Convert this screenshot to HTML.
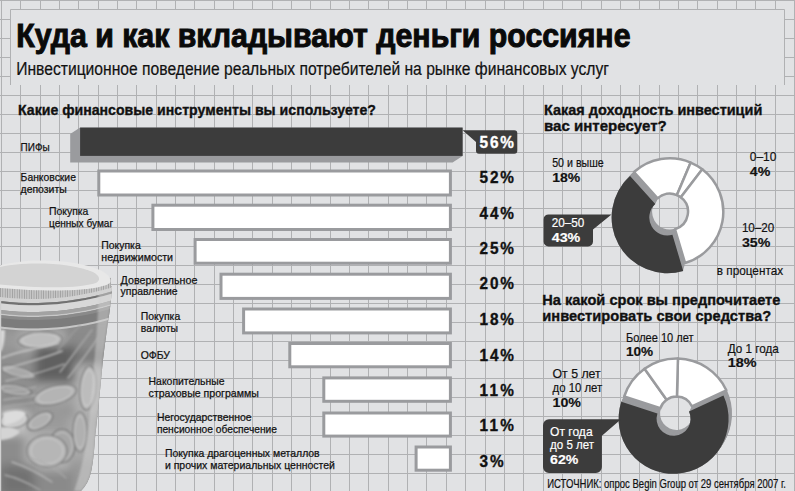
<!DOCTYPE html>
<html><head><meta charset="utf-8"><style>
html,body{margin:0;padding:0;background:#e1e2e4;overflow:hidden}
svg{display:block;font-family:"Liberation Sans",sans-serif}
</style></head><body>
<svg width="795" height="491" viewBox="0 0 795 491">
<defs><clipPath id="jc"><path d="M0 296 L112 286 C111 310 106 330 102 370 C100 392 98.5 405 97.4 416 C96.5 426 95.6 432 94.9 440 C94 454 92.5 466 90.8 473 C89 480 86 486 81 491 L0 491 Z"/></clipPath>
<filter id="bl" x="-20%" y="-20%" width="140%" height="140%"><feGaussianBlur stdDeviation="5"/></filter>
<filter id="bl1" x="-20%" y="-20%" width="140%" height="140%"><feGaussianBlur stdDeviation="0.9"/></filter><filter id="bl2" x="-5%" y="-50%" width="110%" height="200%"><feGaussianBlur stdDeviation="0.5"/></filter>
<linearGradient id="cg" x1="0" y1="0" x2="0.3" y2="1"><stop offset="0" stop-color="#d0d0d0"/><stop offset="0.6" stop-color="#ababab"/><stop offset="1" stop-color="#8a8a8a"/></linearGradient>
<linearGradient id="cg2" x1="0" y1="0" x2="1" y2="0.3"><stop offset="0" stop-color="#9a9a9a"/><stop offset="0.5" stop-color="#c4c4c4"/><stop offset="1" stop-color="#a0a0a0"/></linearGradient>
<pattern id="knurl" width="2.4" height="30" patternUnits="userSpaceOnUse"><rect width="2.4" height="30" fill="#c6c6c6"/><rect width="0.8" height="30" fill="#9e9e9e"/></pattern></defs>
<rect x="0" y="0" width="795" height="491" fill="#e1e2e4"/>
<path d="M1.5 0V491 M20.5 0V491 M40.5 0V491 M59.5 0V491 M78.5 0V491 M98.5 0V491 M117.5 0V491 M136.5 0V491 M156.5 0V491 M175.5 0V491 M194.5 0V491 M214.5 0V491 M233.5 0V491 M252.5 0V491 M272.5 0V491 M291.5 0V491 M310.5 0V491 M330.5 0V491 M349.5 0V491 M368.5 0V491 M388.5 0V491 M407.5 0V491 M426.5 0V491 M446.5 0V491 M465.5 0V491 M485.5 0V491 M504.5 0V491 M523.5 0V491 M543.5 0V491 M562.5 0V491 M581.5 0V491 M601.5 0V491 M620.5 0V491 M639.5 0V491 M659.5 0V491 M678.5 0V491 M697.5 0V491 M717.5 0V491 M736.5 0V491 M755.5 0V491 M775.5 0V491 M794.5 0V491 M0 0.5H795 M0 19.5H795 M0 38.5H795 M0 57.5H795 M0 76.5H795 M0 95.5H795 M0 114.5H795 M0 133.5H795 M0 152.5H795 M0 171.5H795 M0 190.5H795 M0 208.5H795 M0 227.5H795 M0 246.5H795 M0 265.5H795 M0 284.5H795 M0 303.5H795 M0 322.5H795 M0 341.5H795 M0 360.5H795 M0 378.5H795 M0 397.5H795 M0 416.5H795 M0 435.5H795 M0 454.5H795 M0 473.5H795 M0 492.5H795" stroke="#b0b1b3" stroke-width="1" fill="none"/>
<rect x="10" y="9" width="775" height="76" fill="#e1e2e4"/>
<path d="M10.5 85V9.5H784.5V85" stroke="#b0b1b3" stroke-width="1" fill="none"/>
<text x="16.2" y="46.6" font-size="32.4" font-weight="bold" fill="#0a0a0a" textLength="614.3" lengthAdjust="spacingAndGlyphs" stroke="#0a0a0a" stroke-width="1.0">Куда и как вкладывают деньги россияне</text>
<text x="16.2" y="74.9" font-size="17.5" fill="#111" textLength="592.8" lengthAdjust="spacingAndGlyphs" stroke="#111" stroke-width="0.2">Инвестиционное поведение реальных потребителей на рынке финансовых услуг</text>
<text x="18" y="115.3" font-size="15" font-weight="bold" fill="#111" textLength="358.0" lengthAdjust="spacingAndGlyphs" stroke="#111" stroke-width="0.35">Какие финансовые инструменты вы используете?</text>
<text x="544" y="115.3" font-size="15" font-weight="bold" fill="#111" textLength="218.3" lengthAdjust="spacingAndGlyphs" stroke="#111" stroke-width="0.35">Какая доходность инвестиций</text>
<text x="544" y="131.2" font-size="15" font-weight="bold" fill="#111" textLength="122.8" lengthAdjust="spacingAndGlyphs" stroke="#111" stroke-width="0.35">вас интересует?</text>
<text x="542.3" y="305.3" font-size="15" font-weight="bold" fill="#111" textLength="238.0" lengthAdjust="spacingAndGlyphs" stroke="#111" stroke-width="0.35">На какой срок вы предпочитаете</text>
<text x="542.3" y="321" font-size="15" font-weight="bold" fill="#111" textLength="228.8" lengthAdjust="spacingAndGlyphs" stroke="#111" stroke-width="0.35">инвестировать свои средства?</text>
<path d="M0 296 L112 286 C111 310 106 330 102 370 C100 392 98.5 405 97.4 416 C96.5 426 95.6 432 94.9 440 C94 454 92.5 466 90.8 473 C89 480 86 486 81 491 L0 491 Z" fill="#8c8c8c"/>
<g clip-path="url(#jc)">
<g filter="url(#bl)">
<rect x="0" y="330" width="20" height="20" fill="#9a9a9a"/>
<rect x="20" y="330" width="45" height="20" fill="#b0b0b0"/>
<rect x="65" y="330" width="50" height="20" fill="#8a8a8a"/>
<rect x="0" y="350" width="35" height="50" fill="#8e8e8e"/>
<rect x="35" y="345" width="40" height="38" fill="#616161"/>
<rect x="75" y="350" width="40" height="20" fill="#7a7a7a"/>
<rect x="75" y="365" width="30" height="50" fill="#b2b2b2"/>
<rect x="35" y="383" width="40" height="25" fill="#a0a0a0"/>
<rect x="0" y="400" width="35" height="15" fill="#8a8a8a"/>
<rect x="0" y="410" width="28" height="25" fill="#c2c2c2"/>
<rect x="28" y="410" width="40" height="22" fill="#9a9a9a"/>
<rect x="68" y="415" width="30" height="45" fill="#a8a8a8"/>
<rect x="0" y="435" width="25" height="30" fill="#8c8c8c"/>
<rect x="25" y="432" width="45" height="38" fill="#b2b2b2"/>
<rect x="0" y="465" width="35" height="30" fill="#727272"/>
<rect x="35" y="470" width="40" height="25" fill="#8a8a8a"/>
<rect x="75" y="460" width="30" height="35" fill="#9c9c9c"/>
</g>
<g filter="url(#bl1)">
<ellipse cx="40" cy="340" rx="22" ry="8" fill="#bdbdbd" stroke="#707070" stroke-width="1.1" transform="rotate(-3 40 340)"/>
<ellipse cx="40" cy="340" rx="17.6" ry="6.4" fill="none" stroke="#d8d8d8" stroke-width="1" opacity="0.6" transform="rotate(-3 40 340)"/>
<ellipse cx="55" cy="395" rx="22" ry="9" fill="#b4b4b4" stroke="#707070" stroke-width="1.1" transform="rotate(-15 55 395)"/>
<ellipse cx="55" cy="395" rx="17.6" ry="7.2" fill="none" stroke="#d8d8d8" stroke-width="1" opacity="0.6" transform="rotate(-15 55 395)"/>
<ellipse cx="88" cy="388" rx="8" ry="22" fill="#bcbcbc" stroke="#707070" stroke-width="1.1" transform="rotate(5 88 388)"/>
<ellipse cx="88" cy="388" rx="6.4" ry="17.6" fill="none" stroke="#d8d8d8" stroke-width="1" opacity="0.6" transform="rotate(5 88 388)"/>
<ellipse cx="14" cy="420" rx="14" ry="8" fill="#cbcbcb" stroke="#707070" stroke-width="1.1" transform="rotate(-10 14 420)"/>
<ellipse cx="14" cy="420" rx="11.2" ry="6.4" fill="none" stroke="#d8d8d8" stroke-width="1" opacity="0.6" transform="rotate(-10 14 420)"/>
<ellipse cx="40" cy="421" rx="14" ry="7" fill="#b0b0b0" stroke="#707070" stroke-width="1.1" transform="rotate(-30 40 421)"/>
<ellipse cx="40" cy="421" rx="11.2" ry="5.6" fill="none" stroke="#d8d8d8" stroke-width="1" opacity="0.6" transform="rotate(-30 40 421)"/>
<ellipse cx="62" cy="446" rx="13" ry="17" fill="#a6a6a6" stroke="#707070" stroke-width="1.1" transform="rotate(0 62 446)"/>
<ellipse cx="62" cy="446" rx="10.4" ry="13.6" fill="none" stroke="#d8d8d8" stroke-width="1" opacity="0.6" transform="rotate(0 62 446)"/>
<ellipse cx="47" cy="451" rx="20" ry="16" fill="#b6b6b6" stroke="#707070" stroke-width="1.1" transform="rotate(0 47 451)"/>
<ellipse cx="47" cy="451" rx="16.0" ry="12.8" fill="none" stroke="#d8d8d8" stroke-width="1" opacity="0.6" transform="rotate(0 47 451)"/>
<ellipse cx="80" cy="432" rx="7" ry="20" fill="#b0b0b0" stroke="#707070" stroke-width="1.1" transform="rotate(0 80 432)"/>
<ellipse cx="80" cy="432" rx="5.6" ry="16.0" fill="none" stroke="#d8d8d8" stroke-width="1" opacity="0.6" transform="rotate(0 80 432)"/>
<ellipse cx="18" cy="372" rx="18" ry="5" fill="#a8a8a8" stroke="#707070" stroke-width="1.1" transform="rotate(15 18 372)"/>
<ellipse cx="18" cy="372" rx="14.4" ry="4.0" fill="none" stroke="#d8d8d8" stroke-width="1" opacity="0.6" transform="rotate(15 18 372)"/>
<ellipse cx="15" cy="390" rx="17" ry="5" fill="#a0a0a0" stroke="#707070" stroke-width="1.1" transform="rotate(10 15 390)"/>
<ellipse cx="15" cy="390" rx="13.6" ry="4.0" fill="none" stroke="#d8d8d8" stroke-width="1" opacity="0.6" transform="rotate(10 15 390)"/>
</g>
<polygon points="0.0,296.0 9.5,297.0 19.0,297.7 28.5,298.0 38.0,298.0 47.5,297.6 57.0,297.0 66.5,295.9 76.0,294.6 85.5,292.9 95.0,290.9 104.5,288.5 114.0,285.8 114.0,290.8 104.5,293.5 95.0,295.9 85.5,297.9 76.0,299.6 66.5,300.9 57.0,302.0 47.5,302.6 38.0,303.0 28.5,303.0 19.0,302.7 9.5,302.0 0.0,301.0" fill="#d2d2d2" filter="url(#bl2)"/>
<polygon points="0.0,301.0 9.5,302.0 19.0,302.7 28.5,303.0 38.0,303.0 47.5,302.6 57.0,302.0 66.5,300.9 76.0,299.6 85.5,297.9 95.0,295.9 104.5,293.5 114.0,290.8 114.0,293.0 104.5,295.7 95.0,298.1 85.5,300.1 76.0,301.8 66.5,303.1 57.0,304.2 47.5,304.8 38.0,305.2 28.5,305.2 19.0,304.9 9.5,304.2 0.0,303.2" fill="#727272" filter="url(#bl2)"/>
<polygon points="0.0,303.2 9.5,304.2 19.0,304.9 28.5,305.2 38.0,305.2 47.5,304.8 57.0,304.2 66.5,303.1 76.0,301.8 85.5,300.1 95.0,298.1 104.5,295.7 114.0,293.0 114.0,299.8 104.5,302.5 95.0,304.9 85.5,306.9 76.0,308.6 66.5,309.9 57.0,311.0 47.5,311.6 38.0,312.0 28.5,312.0 19.0,311.7 9.5,311.0 0.0,310.0" fill="#d8d8d8" filter="url(#bl2)"/>
<polygon points="0.0,310.0 9.5,311.0 19.0,311.7 28.5,312.0 38.0,312.0 47.5,311.6 57.0,311.0 66.5,309.9 76.0,308.6 85.5,306.9 95.0,304.9 104.5,302.5 114.0,299.8 114.0,303.3 104.5,306.0 95.0,308.4 85.5,310.4 76.0,312.1 66.5,313.4 57.0,314.5 47.5,315.1 38.0,315.5 28.5,315.5 19.0,315.2 9.5,314.5 0.0,313.5" fill="#a2a2a2" filter="url(#bl2)"/>
<polygon points="0.0,313.5 9.5,314.5 19.0,315.2 28.5,315.5 38.0,315.5 47.5,315.1 57.0,314.5 66.5,313.4 76.0,312.1 85.5,310.4 95.0,308.4 104.5,306.0 114.0,303.3 114.0,304.8 104.5,307.5 95.0,309.9 85.5,311.9 76.0,313.6 66.5,314.9 57.0,316.0 47.5,316.6 38.0,317.0 28.5,317.0 19.0,316.7 9.5,316.0 0.0,315.0" fill="#c8c8c8" filter="url(#bl2)"/>
<polygon points="0.0,315.0 9.5,316.0 19.0,316.7 28.5,317.0 38.0,317.0 47.5,316.6 57.0,316.0 66.5,314.9 76.0,313.6 85.5,311.9 95.0,309.9 104.5,307.5 114.0,304.8 114.0,307.8 104.5,310.5 95.0,312.9 85.5,314.9 76.0,316.6 66.5,317.9 57.0,319.0 47.5,319.6 38.0,320.0 28.5,320.0 19.0,319.7 9.5,319.0 0.0,318.0" fill="#8a8a8a" filter="url(#bl2)"/>
<polygon points="0.0,318.0 9.5,319.0 19.0,319.7 28.5,320.0 38.0,320.0 47.5,319.6 57.0,319.0 66.5,317.9 76.0,316.6 85.5,314.9 95.0,312.9 104.5,310.5 114.0,307.8 114.0,316.3 104.5,319.0 95.0,321.4 85.5,323.4 76.0,325.1 66.5,326.4 57.0,327.5 47.5,328.1 38.0,328.5 28.5,328.5 19.0,328.2 9.5,327.5 0.0,326.5" fill="#7c7c7c" filter="url(#bl2)"/>
<polygon points="0.0,326.5 9.5,327.5 19.0,328.2 28.5,328.5 38.0,328.5 47.5,328.1 57.0,327.5 66.5,326.4 76.0,325.1 85.5,323.4 95.0,321.4 104.5,319.0 114.0,316.3 114.0,318.3 104.5,321.0 95.0,323.4 85.5,325.4 76.0,327.1 66.5,328.4 57.0,329.5 47.5,330.1 38.0,330.5 28.5,330.5 19.0,330.2 9.5,329.5 0.0,328.5" fill="#c6c6c6" filter="url(#bl2)"/>
<path d="M98 290 L113 286 C111 310 106 330 102 370 C100 392 98.5 405 97.4 416 C96.5 426 95.6 432 94.9 440 C94 454 92.5 466 90.8 473 C89 480 86 486 81 491 L74 491 C82 470 88 440 91 400 C94 360 99 320 98 290Z" fill="#d2d2d2" opacity="0.5" filter="url(#bl1)"/>
<g filter="url(#bl1)" fill="none" stroke-linecap="round">
<path d="M2 358 C15 352 35 349 58 343" stroke="#c8c8c8" stroke-width="1.6"/>
<path d="M4 370 C18 364 40 360 62 351" stroke="#bdbdbd" stroke-width="1.4"/>
<path d="M6 381 C22 377 42 373 64 364" stroke="#b8b8b8" stroke-width="1.3"/>
<path d="M3 392 C15 390 28 389 36 387" stroke="#b0b0b0" stroke-width="1.2"/>
<path d="M3 400 C15 398 28 397 36 395" stroke="#b4b4b4" stroke-width="1.2"/>
<path d="M3 407 C15 405 28 404 36 402" stroke="#aaaaaa" stroke-width="1.2"/>
<path d="M12 462 C25 466 40 474 52 482" stroke="#b6b6b6" stroke-width="1.4"/>
<path d="M5 475 C18 478 30 484 40 490" stroke="#aaaaaa" stroke-width="1.3"/>
<path d="M30 458 C45 462 58 470 66 478" stroke="#a8a8a8" stroke-width="1.2"/>
<path d="M60 372 C70 360 80 345 92 330" stroke="#a6a6a6" stroke-width="1.5"/>
<path d="M68 378 C78 366 88 352 98 338" stroke="#b0b0b0" stroke-width="1.3"/>
<path d="M58 350 C65 342 72 333 80 326" stroke="#9c9c9c" stroke-width="1.2"/>
<path d="M3 413 C10 410 20 409 26 413 C22 420 14 424 4 425 Z" fill="#dcdcdc" stroke="none"/>
<path d="M0 428 C8 426 16 428 20 432 C14 438 6 440 0 440 Z" fill="#d4d4d4" stroke="none"/>
<path d="M0 330 L5 330 C5 338 4 344 2 350 L0 352 Z" fill="#d8d8d8" stroke="none"/>
</g>
<rect x="0" y="300" width="1.2" height="191" fill="#d0d0d0"/>
</g>
<polygon points="0.0,287.0 9.2,288.0 18.5,288.6 27.8,289.0 37.0,289.0 46.2,288.7 55.5,288.1 64.8,287.2 74.0,285.9 83.2,284.3 92.5,282.4 101.8,280.2 111.0,277.7 111.0,287.7 101.8,290.2 92.5,292.4 83.2,294.3 74.0,295.9 64.8,297.2 55.5,298.1 46.2,298.7 37.0,299.0 27.8,299.0 18.5,298.6 9.2,298.0 0.0,297.0" fill="url(#knurl)"/>
<path d="M0 265.6 C20 259 70 257 100 270 C108 274 112 279 110 283 C100 290 60 293 0 288 Z" fill="#e8e8e8" filter="url(#bl2)"/>
<path d="M0 267 C20 262 68 261 93 272 C100 276 101 280 96 283 C80 288 50 289 0 284.5 Z" fill="#d3d3d3" filter="url(#bl2)"/>
<polygon points="80.1,127.6 70.2,134.1 70.2,162.6 452.6,162.6 462.6,156 462.6,127.6" fill="#9a9b9e"/>
<rect x="80.1" y="127.6" width="382.5" height="28.3" fill="#3c3c3c"/>
<path d="M462.6 130.2H514.3A3 3 0 0 1 517.3 133.2V150.7A3 3 0 0 1 514.3 153.7H479A3 3 0 0 1 476 150.7V142Z" fill="#3c3c3c"/>
<rect x="98.8" y="171.0" width="351.59999999999997" height="24.0" fill="#fff" stroke="#9a9b9e" stroke-width="3"/>
<rect x="152.9" y="205.2" width="297.5" height="24.30000000000001" fill="#fff" stroke="#9a9b9e" stroke-width="3"/>
<rect x="195.1" y="239.5" width="255.29999999999995" height="23.69999999999999" fill="#fff" stroke="#9a9b9e" stroke-width="3"/>
<rect x="221.0" y="274.2" width="229.39999999999998" height="24.19999999999999" fill="#fff" stroke="#9a9b9e" stroke-width="3"/>
<rect x="243.6" y="309.0" width="206.79999999999998" height="23.899999999999977" fill="#fff" stroke="#9a9b9e" stroke-width="3"/>
<rect x="289.8" y="343.5" width="160.59999999999997" height="23.30000000000001" fill="#fff" stroke="#9a9b9e" stroke-width="3"/>
<rect x="323.8" y="377.9" width="126.59999999999997" height="23.400000000000034" fill="#fff" stroke="#9a9b9e" stroke-width="3"/>
<rect x="323.8" y="413.0" width="126.59999999999997" height="23.100000000000023" fill="#fff" stroke="#9a9b9e" stroke-width="3"/>
<rect x="416.1" y="447.0" width="34.299999999999955" height="23.19999999999999" fill="#fff" stroke="#9a9b9e" stroke-width="3"/>
<text transform="translate(479.5 147.7) scale(0.93 1)" x="0" y="0" font-size="16.5" font-weight="bold" fill="#fff" stroke="#fff" stroke-width="0.35" textLength="37.1" lengthAdjust="spacing">56%</text>
<text transform="translate(479.5 183.1) scale(0.93 1)" x="0" y="0" font-size="16.5" font-weight="bold" fill="#111" stroke="#111" stroke-width="0.35" textLength="37.1" lengthAdjust="spacing">52%</text>
<text transform="translate(479.5 218.8) scale(0.93 1)" x="0" y="0" font-size="16.5" font-weight="bold" fill="#111" stroke="#111" stroke-width="0.35" textLength="37.1" lengthAdjust="spacing">44%</text>
<text transform="translate(479.5 254) scale(0.93 1)" x="0" y="0" font-size="16.5" font-weight="bold" fill="#111" stroke="#111" stroke-width="0.35" textLength="37.1" lengthAdjust="spacing">25%</text>
<text transform="translate(479.5 289) scale(0.93 1)" x="0" y="0" font-size="16.5" font-weight="bold" fill="#111" stroke="#111" stroke-width="0.35" textLength="37.1" lengthAdjust="spacing">20%</text>
<text transform="translate(479.5 324.5) scale(0.93 1)" x="0" y="0" font-size="16.5" font-weight="bold" fill="#111" stroke="#111" stroke-width="0.35" textLength="37.1" lengthAdjust="spacing">18%</text>
<text transform="translate(479.5 360.5) scale(0.93 1)" x="0" y="0" font-size="16.5" font-weight="bold" fill="#111" stroke="#111" stroke-width="0.35" textLength="37.1" lengthAdjust="spacing">14%</text>
<text transform="translate(479.5 396.2) scale(0.93 1)" x="0" y="0" font-size="16.5" font-weight="bold" fill="#111" stroke="#111" stroke-width="0.35" textLength="37.1" lengthAdjust="spacing">11%</text>
<text transform="translate(479.5 431.2) scale(0.93 1)" x="0" y="0" font-size="16.5" font-weight="bold" fill="#111" stroke="#111" stroke-width="0.35" textLength="37.1" lengthAdjust="spacing">11%</text>
<text transform="translate(479.5 466.9) scale(0.93 1)" x="0" y="0" font-size="16.5" font-weight="bold" fill="#111" stroke="#111" stroke-width="0.35" textLength="26.1" lengthAdjust="spacing">3%</text>
<text x="20.6" y="150.9" font-size="11.6" fill="#111" stroke="#111" stroke-width="0.25" textLength="29.1" lengthAdjust="spacingAndGlyphs">ПИФы</text>
<text x="20.6" y="180.8" font-size="11.6" fill="#111" stroke="#111" stroke-width="0.25" textLength="55.3" lengthAdjust="spacingAndGlyphs">Банковские</text>
<text x="20.6" y="193" font-size="11.6" fill="#111" stroke="#111" stroke-width="0.25" transform="translate(20.6 0) scale(0.9 1) translate(-20.6 0)">депозиты</text>
<text x="49" y="214.8" font-size="11.6" fill="#111" stroke="#111" stroke-width="0.25" transform="translate(49 0) scale(0.9 1) translate(-49 0)">Покупка</text>
<text x="49" y="226.9" font-size="11.6" fill="#111" stroke="#111" stroke-width="0.25" textLength="64.1" lengthAdjust="spacingAndGlyphs">ценных бумаг</text>
<text x="101.3" y="248.8" font-size="11.6" fill="#111" stroke="#111" stroke-width="0.25" transform="translate(101.3 0) scale(0.9 1) translate(-101.3 0)">Покупка</text>
<text x="101.3" y="260.7" font-size="11.6" fill="#111" stroke="#111" stroke-width="0.25" textLength="71.7" lengthAdjust="spacingAndGlyphs">недвижимости</text>
<text x="120.6" y="283.5" font-size="11.6" fill="#111" stroke="#111" stroke-width="0.25" textLength="76.8" lengthAdjust="spacingAndGlyphs">Доверительное</text>
<text x="120.6" y="295.4" font-size="11.6" fill="#111" stroke="#111" stroke-width="0.25" transform="translate(120.6 0) scale(0.9 1) translate(-120.6 0)">управление</text>
<text x="140.8" y="319.8" font-size="11.6" fill="#111" stroke="#111" stroke-width="0.25" transform="translate(140.8 0) scale(0.9 1) translate(-140.8 0)">Покупка</text>
<text x="140.8" y="331.9" font-size="11.6" fill="#111" stroke="#111" stroke-width="0.25" transform="translate(140.8 0) scale(0.9 1) translate(-140.8 0)">валюты</text>
<text x="140.7" y="358.6" font-size="11.6" fill="#111" stroke="#111" stroke-width="0.25" transform="translate(140.7 0) scale(0.9 1) translate(-140.7 0)">ОФБУ</text>
<text x="148.6" y="385.2" font-size="11.6" fill="#111" stroke="#111" stroke-width="0.25" transform="translate(148.6 0) scale(0.9 1) translate(-148.6 0)">Накопительные</text>
<text x="148.6" y="397" font-size="11.6" fill="#111" stroke="#111" stroke-width="0.25" textLength="110.2" lengthAdjust="spacingAndGlyphs">страховые программы</text>
<text x="156.9" y="420.6" font-size="11.6" fill="#111" stroke="#111" stroke-width="0.25" transform="translate(156.9 0) scale(0.9 1) translate(-156.9 0)">Негосударственное</text>
<text x="156.9" y="433" font-size="11.6" fill="#111" stroke="#111" stroke-width="0.25" textLength="120.1" lengthAdjust="spacingAndGlyphs">пенсионное обеспечение</text>
<text x="164.9" y="456.7" font-size="11.6" fill="#111" stroke="#111" stroke-width="0.25" transform="translate(164.9 0) scale(0.9 1) translate(-164.9 0)">Покупка драгоценных металлов</text>
<text x="164.9" y="468.5" font-size="11.6" fill="#111" stroke="#111" stroke-width="0.25" textLength="170.1" lengthAdjust="spacingAndGlyphs">и прочих материальных ценностей</text>
<path d="M634.00 172.04A53.5 53.5 0 0 1 690.70 162.55L676.91 195.05A18.2 18.2 0 0 0 657.62 198.27Z" fill="#fff" stroke="#9a9b9e" stroke-width="2.5" stroke-linejoin="round"/>
<path d="M690.70 162.55A53.5 53.5 0 0 1 702.29 169.30L680.85 197.34A18.2 18.2 0 0 0 676.91 195.05Z" fill="#fff" stroke="#9a9b9e" stroke-width="2.5" stroke-linejoin="round"/>
<path d="M702.29 169.30A53.5 53.5 0 0 1 685.08 263.07L675.00 229.24A18.2 18.2 0 0 0 680.85 197.34Z" fill="#fff" stroke="#9a9b9e" stroke-width="2.5" stroke-linejoin="round"/>
<path d="M685.23 263.55A54.0 54.0 0 0 1 633.67 171.67L657.96 198.65A17.7 17.7 0 0 0 674.86 228.76Z" fill="#9a9b9e"/>
<path d="M684.94 264.60A54.24285714285714 54.24285714285714 0 0 1 633.15 172.30L657.57 199.43A17.742857142857144 17.742857142857144 0 0 0 674.51 229.62Z" fill="#9a9b9e"/>
<path d="M684.65 265.64A54.48571428571429 54.48571428571429 0 0 1 632.63 172.94L657.18 200.21A17.785714285714285 17.785714285714285 0 0 0 674.17 230.47Z" fill="#9a9b9e"/>
<path d="M684.36 266.69A54.72857142857143 54.72857142857143 0 0 1 632.11 173.57L656.80 200.99A17.82857142857143 17.82857142857143 0 0 0 673.82 231.33Z" fill="#9a9b9e"/>
<path d="M684.08 267.74A54.971428571428575 54.971428571428575 0 0 1 631.59 174.21L656.41 201.78A17.87142857142857 17.87142857142857 0 0 0 673.48 232.18Z" fill="#9a9b9e"/>
<path d="M683.79 268.78A55.214285714285715 55.214285714285715 0 0 1 631.07 174.84L656.03 202.56A17.914285714285715 17.914285714285715 0 0 0 673.13 233.04Z" fill="#9a9b9e"/>
<path d="M683.50 269.83A55.45714285714286 55.45714285714286 0 0 1 630.55 175.47L655.64 203.34A17.957142857142856 17.957142857142856 0 0 0 672.79 233.89Z" fill="#9a9b9e"/>
<path d="M683.21 270.88A55.7 55.7 0 0 1 630.03 176.11L655.26 204.12A18.0 18.0 0 0 0 672.44 234.75Z" fill="#9a9b9e"/>
<path d="M683.21 270.88A55.7 55.7 0 0 1 630.03 176.11L655.26 204.12A18 18 0 0 0 672.44 234.75Z" fill="#3c3c3c"/>
<path d="M677.94 358.52A55 55 0 0 1 726.35 390.26L691.91 406.32A17 17 0 0 0 676.95 396.51Z" fill="#fff" stroke="#9a9b9e" stroke-width="2.5" stroke-linejoin="round"/>
<path d="M624.19 396.50A55 55 0 0 1 644.56 368.72L666.63 399.66A17 17 0 0 0 660.33 408.25Z" fill="#fff" stroke="#9a9b9e" stroke-width="2.5" stroke-linejoin="round"/>
<path d="M644.56 368.72A55 55 0 0 1 677.94 358.52L676.95 396.51A17 17 0 0 0 666.63 399.66Z" fill="#fff" stroke="#9a9b9e" stroke-width="2.5" stroke-linejoin="round"/>
<path d="M726.80 390.04A55.5 55.5 0 1 1 623.72 396.35L660.81 408.40A16.5 16.5 0 1 0 691.45 406.53Z" fill="#9a9b9e"/>
<path d="M726.32 390.83A55.42857142857143 55.42857142857143 0 1 1 623.37 397.13L660.33 409.14A16.571428571428573 16.571428571428573 0 1 0 691.10 407.25Z" fill="#9a9b9e"/>
<path d="M725.84 391.62A55.357142857142854 55.357142857142854 0 1 1 623.02 397.91L659.84 409.87A16.642857142857142 16.642857142857142 0 1 0 690.75 407.98Z" fill="#9a9b9e"/>
<path d="M725.36 392.41A55.285714285714285 55.285714285714285 0 1 1 622.68 398.69L659.36 410.61A16.714285714285715 16.714285714285715 0 1 0 690.41 408.71Z" fill="#9a9b9e"/>
<path d="M724.88 393.19A55.214285714285715 55.214285714285715 0 1 1 622.33 399.47L658.88 411.34A16.785714285714285 16.785714285714285 0 1 0 690.06 409.43Z" fill="#9a9b9e"/>
<path d="M724.40 393.98A55.142857142857146 55.142857142857146 0 1 1 621.98 400.25L658.40 412.08A16.857142857142858 16.857142857142858 0 1 0 689.71 410.16Z" fill="#9a9b9e"/>
<path d="M723.93 394.77A55.07142857142857 55.07142857142857 0 1 1 621.64 401.02L657.91 412.81A16.928571428571427 16.928571428571427 0 1 0 689.36 410.89Z" fill="#9a9b9e"/>
<path d="M723.45 395.56A55.0 55.0 0 1 1 621.29 401.80L657.43 413.55A17.0 17.0 0 1 0 689.01 411.62Z" fill="#9a9b9e"/>
<path d="M723.45 395.56A55 55 0 1 1 621.29 401.80L657.43 413.55A17 17 0 1 0 689.01 411.62Z" fill="#3c3c3c"/>
<path d="M548.6 214.4H611.5L593 229.4V241.5A5 5 0 0 1 588 246.5H548.6A5 5 0 0 1 543.6 241.5V219.4A5 5 0 0 1 548.6 214.4Z" fill="#3c3c3c"/>
<path d="M549 419.3H621L601.9 435.7V467.1A6 6 0 0 1 595.9 473.1H549A6 6 0 0 1 543 467.1V425.3A6 6 0 0 1 549 419.3Z" fill="#3c3c3c"/>
<text x="552.2" y="167.4" font-size="13.2" fill="#111" textLength="51.5" lengthAdjust="spacingAndGlyphs" stroke="#111" stroke-width="0.2">50 и выше</text>
<text x="552.2" y="182.4" font-size="12.6" font-weight="bold" fill="#111" textLength="28.0" lengthAdjust="spacingAndGlyphs" stroke="#111" stroke-width="0.15">18%</text>
<text x="551.7" y="226.9" font-size="13.2" fill="#fff" textLength="32.6" lengthAdjust="spacingAndGlyphs" stroke="#fff" stroke-width="0.2">20–50</text>
<text x="551.7" y="241.9" font-size="12.6" font-weight="bold" fill="#fff" textLength="28.6" lengthAdjust="spacingAndGlyphs" stroke="#fff" stroke-width="0.15">43%</text>
<text x="749.8" y="161.4" font-size="13.2" fill="#111" textLength="26.6" lengthAdjust="spacingAndGlyphs" stroke="#111" stroke-width="0.2">0–10</text>
<text x="749.8" y="175.7" font-size="12.6" font-weight="bold" fill="#111" textLength="20.5" lengthAdjust="spacingAndGlyphs" stroke="#111" stroke-width="0.15">4%</text>
<text x="741.9" y="231.7" font-size="13.2" fill="#111" textLength="32.3" lengthAdjust="spacingAndGlyphs" stroke="#111" stroke-width="0.2">10–20</text>
<text x="741.9" y="246.9" font-size="12.6" font-weight="bold" fill="#111" textLength="28.4" lengthAdjust="spacingAndGlyphs" stroke="#111" stroke-width="0.15">35%</text>
<text x="716.8" y="275" font-size="13.2" fill="#111" textLength="66.3" lengthAdjust="spacingAndGlyphs" stroke="#111" stroke-width="0.2">в процентах</text>
<text x="626" y="341.5" font-size="13.2" fill="#111" textLength="67.5" lengthAdjust="spacingAndGlyphs" stroke="#111" stroke-width="0.2">Более 10 лет</text>
<text x="626" y="356.2" font-size="12.6" font-weight="bold" fill="#111" textLength="27.2" lengthAdjust="spacingAndGlyphs" stroke="#111" stroke-width="0.15">10%</text>
<text x="727.7" y="353" font-size="13.2" fill="#111" textLength="51.1" lengthAdjust="spacingAndGlyphs" stroke="#111" stroke-width="0.2">До 1 года</text>
<text x="727.7" y="366.7" font-size="12.6" font-weight="bold" fill="#111" textLength="28.8" lengthAdjust="spacingAndGlyphs" stroke="#111" stroke-width="0.15">18%</text>
<text x="552.5" y="378.2" font-size="13.2" fill="#111" textLength="48.2" lengthAdjust="spacingAndGlyphs" stroke="#111" stroke-width="0.2">От 5 лет</text>
<text x="552.5" y="392.3" font-size="13.2" fill="#111" textLength="49.8" lengthAdjust="spacingAndGlyphs" stroke="#111" stroke-width="0.2">до 10 лет</text>
<text x="552.5" y="407.1" font-size="12.6" font-weight="bold" fill="#111" textLength="28.5" lengthAdjust="spacingAndGlyphs" stroke="#111" stroke-width="0.15">10%</text>
<text x="550.1" y="435.7" font-size="13.2" fill="#fff" textLength="42.5" lengthAdjust="spacingAndGlyphs" stroke="#fff" stroke-width="0.2">От года</text>
<text x="550.1" y="449.2" font-size="13.2" fill="#fff" textLength="44.0" lengthAdjust="spacingAndGlyphs" stroke="#fff" stroke-width="0.2">до 5 лет</text>
<text x="550.1" y="463.5" font-size="12.6" font-weight="bold" fill="#fff" textLength="28.3" lengthAdjust="spacingAndGlyphs" stroke="#fff" stroke-width="0.15">62%</text>
<text x="547.2" y="487.5" font-size="12" fill="#111" textLength="238.8" lengthAdjust="spacingAndGlyphs" stroke="#111" stroke-width="0.2">ИСТОЧНИК: опрос Begin Group от 29 сентября 2007 г.</text>
</svg></body></html>
